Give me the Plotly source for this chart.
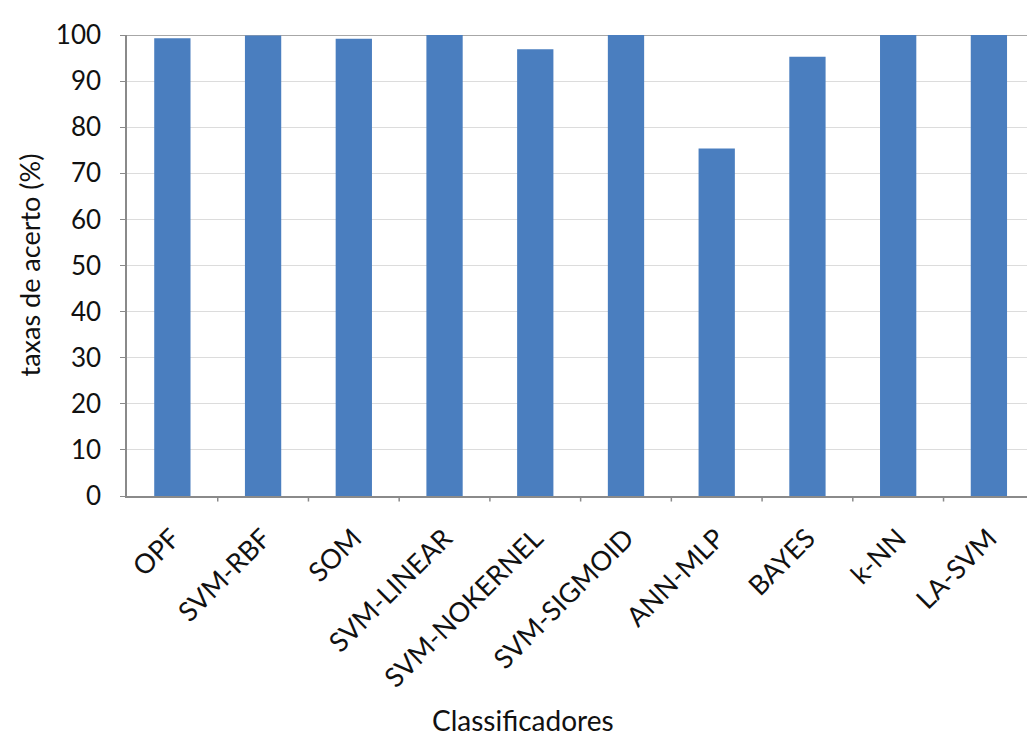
import plotly.graph_objects as go

categories = ["OPF", "SVM-RBF", "SOM", "SVM-LINEAR", "SVM-NOKERNEL", "SVM-SIGMOID",
              "ANN-MLP", "BAYES", "k-NN", "LA-SVM"]
values = [99.3, 99.9, 99.2, 100, 96.9, 100, 75.4, 95.3, 100, 100]
y_ticks = [0, 10, 20, 30, 40, 50, 60, 70, 80, 90, 100]

font_family = "Lato, Open Sans, sans-serif"

fig = go.Figure()
fig.add_trace(go.Bar(
    x=list(range(len(categories))), y=values,
    marker=dict(color="#4a7ebf", line=dict(width=0)),
    width=0.4,
))

fig.update_layout(
    width=1027, height=738,
    margin=dict(l=127, r=0, t=35, b=242),
    paper_bgcolor="white", plot_bgcolor="white",
    showlegend=False,
    font=dict(family=font_family, color="#111111"),
    xaxis=dict(
        tickmode="array", tickvals=list(range(len(categories))), ticktext=categories,
        range=[-0.5, 9.42], tickangle=-45,
        tickfont=dict(size=27, color="#111111"),
        ticklabelstandoff=14,
        showgrid=False, showline=True, linecolor="#8a8a8a", linewidth=1.5,
        ticks="", zeroline=False,
    ),
    yaxis=dict(
        range=[0, 100], tickvals=y_ticks,
        tickfont=dict(size=26, color="#111111"),
        ticklabelstandoff=14,
        showgrid=True, gridcolor="#dcdcdc", gridwidth=1,
        showline=True, linecolor="#8a8a8a", linewidth=1.5,
        ticks="outside", ticklen=5, tickcolor="#8a8a8a",
        zeroline=False,
    ),
    annotations=[
        dict(text="Classificadores", xref="paper", yref="paper",
             x=(523 - 127) / 900, y=-(720 - 496) / 461, xanchor="center", yanchor="middle",
             showarrow=False, font=dict(size=28, color="#111111")),
        dict(text="taxas de acerto (%)", xref="paper", yref="paper",
             x=-(127 - 29) / 900, y=0.5, xanchor="center", yanchor="middle",
             textangle=-90, showarrow=False, font=dict(size=27, color="#111111")),
    ],
)

# boundary tick marks on the x axis
for i in range(len(categories)):
    fig.add_shape(type="line", xref="x", yref="paper",
                  x0=i + 0.5, x1=i + 0.5, y0=0, y1=-0.012,
                  line=dict(color="#8a8a8a", width=1.5))
# darker top gridline
fig.add_shape(type="line", xref="paper", yref="y", x0=0, x1=1, y0=100, y1=100,
              line=dict(color="#8a8a8a", width=1.5), layer="below")

fig.write_html("out.html")
